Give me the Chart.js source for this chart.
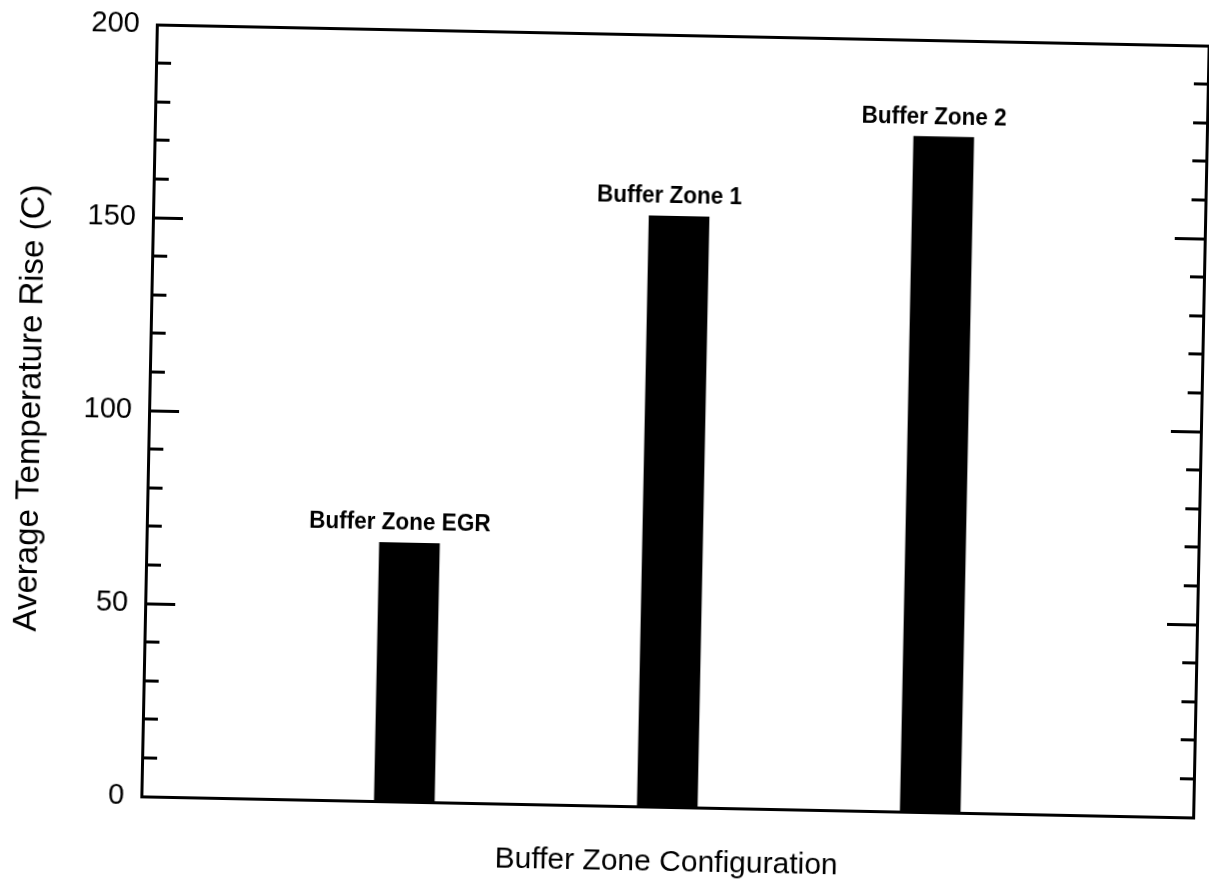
<!DOCTYPE html>
<html><head><meta charset="utf-8">
<script src="https://cdn.jsdelivr.net/npm/chart.js@4"></script>
<style>
html,body{margin:0;padding:0;background:#fff;overflow:hidden}
#wrap{position:absolute;left:0;top:0;width:1209px;height:892px;transform-origin:675px 421px;transform:rotate(1.15deg)}
</style></head><body>
<div id="wrap"><canvas id="c" width="1209" height="892"></canvas></div>
<script>
const categories = ['', 'Buffer Zone EGR', 'Buffer Zone 1', 'Buffer Zone 2', ''];
const values = [null, 67, 153, 175, null];
const yTickLabels = [0, 50, 100, 150, 200];
const yTitle = 'Average Temperature Rise (C)';
const xTitle = 'Buffer Zone Configuration';

const FONT = "'Liberation Sans', Arial, Helvetica, sans-serif";

const barLabels = {
  id: 'barLabels',
  afterDatasetsDraw(chart) {
    const ctx = chart.ctx;
    const meta = chart.getDatasetMeta(0);
    meta.data.forEach((bar, i) => {
      if (values[i] == null) return;
      ctx.save();
      ctx.fillStyle = '#000';
      ctx.font = 'bold 22.5px ' + FONT;
      ctx.textAlign = 'center';
      ctx.textBaseline = 'alphabetic';
      ctx.translate(bar.x - 10, bar.y - 13);
      ctx.scale(1, 1.1);
      ctx.fillText(categories[i], 0, 0);
      ctx.restore();
    });
  }
};

function fixW(w) { return s => { s.width = w; s.paddingTop = 0; s.paddingBottom = 0; }; }
function fixH(h) { return s => { s.height = h; s.paddingLeft = 0; s.paddingRight = 0; }; }

new Chart(document.getElementById('c'), {
  type: 'bar',
  data: {
    labels: categories,
    datasets: [{
      data: values,
      backgroundColor: '#000',
      borderWidth: 0,
      barThickness: 60
    }]
  },
  options: {
    responsive: false,
    animation: false,
    layout: { padding: { top: 35, left: 0, right: 0, bottom: 0 } },
    plugins: { legend: { display: false }, tooltip: { enabled: false } },
    scales: {
      x: {
        type: 'category',
        position: 'bottom',
        offset: false,
        grid: { display: false, offset: false },
        border: { display: true, color: '#000', width: 3 },
        ticks: { display: false },
        title: { display: true, text: xTitle, color: '#000', font: { family: FONT, size: 30 }, padding: { top: 0, bottom: 11 } },
        afterFit: fixH(85)
      },
      xTop: {
        axis: 'x', type: 'linear', position: 'top', min: 0, max: 1,
        grid: { display: false },
        border: { display: true, color: '#000', width: 3 },
        ticks: { display: false },
        afterFit: fixH(0)
      },
      y: {
        type: 'linear', position: 'left', min: 0, max: 200, weight: 1,
        grid: { drawOnChartArea: false, drawTicks: true, tickLength: -15, tickWidth: 3, tickColor: '#000' },
        border: { display: true, color: '#000', width: 3 },
        ticks: {
          stepSize: 10, maxTicksLimit: 30, autoSkip: false, padding: 32, color: '#000',
          font: { family: FONT, size: 29 },
          callback: v => yTickLabels.includes(v) ? String(v) : ''
        },
        title: { display: true, text: yTitle, color: '#000', font: { family: FONT, size: 33 }, padding: { top: 11, bottom: 0 } },
        afterFit: fixW(149)
      },
      yMajL: {
        axis: 'y', type: 'linear', position: 'left', min: 0, max: 200, weight: -10,
        grid: { drawOnChartArea: false, drawTicks: true, tickLength: -30, tickWidth: 3, tickColor: '#000' },
        border: { display: false },
        ticks: { stepSize: 50, display: false },
        afterFit: fixW(0)
      },
      yR: {
        axis: 'y', type: 'linear', position: 'right', min: 0, max: 200, weight: 1,
        grid: { drawOnChartArea: false, drawTicks: true, tickLength: -14, tickWidth: 3, tickColor: '#000' },
        border: { display: true, color: '#000', width: 3 },
        ticks: { stepSize: 10, maxTicksLimit: 30, display: false },
        afterFit: fixW(8)
      },
      yMajR: {
        axis: 'y', type: 'linear', position: 'right', min: 0, max: 200, weight: -10,
        grid: { drawOnChartArea: false, drawTicks: true, tickLength: -30, tickWidth: 3, tickColor: '#000' },
        border: { display: false },
        ticks: { stepSize: 50, display: false },
        afterFit: fixW(0)
      }
    }
  },
  plugins: [barLabels]
});
</script>
</body></html>
